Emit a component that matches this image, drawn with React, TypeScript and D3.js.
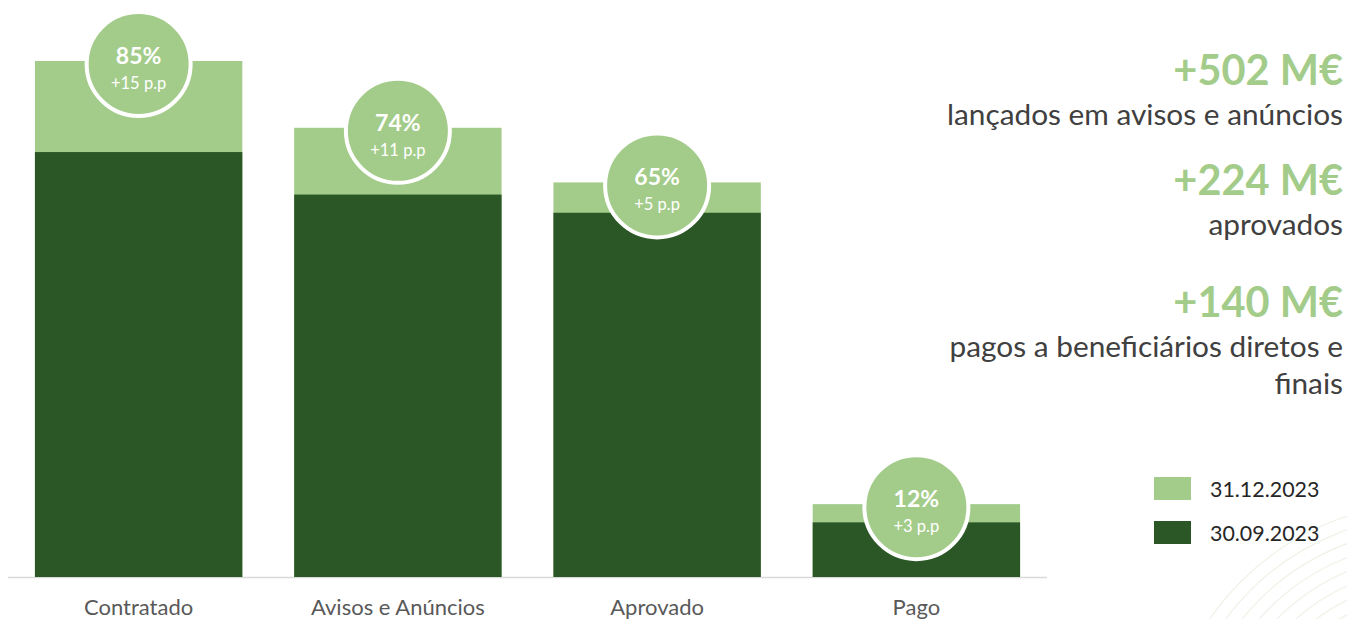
import { useMemo } from 'react';
import * as d3 from 'd3';

const categories = ['Contratado', 'Avisos e Anúncios', 'Aprovado', 'Pago'];
const pctDec2023 = [85, 74, 65, 12];
const deltaPp = [15, 11, 5, 3];
const pctSep2023 = pctDec2023.map((v, i) => v - deltaPp[i]);

const legendLabels = ['31.12.2023', '30.09.2023'];

const highlights = [
  { value: '+502 M€', lines: ['lançados em avisos e anúncios'] },
  { value: '+224 M€', lines: ['aprovados'] },
  { value: '+140 M€', lines: ['pagos a beneficiários diretos e', 'finais'] },
];

const LIGHT = '#a3cc8a';
const DARK = '#2b5727';
const FONT = 'Lato, "Open Sans", sans-serif';

export default function App() {
  const width = 1347;
  const height = 619;
  const baseline = 577;

  const x = useMemo(
    () => d3.scaleBand<string>().domain(categories).range([9, 1046]).paddingInner(0.2).paddingOuter(0.1),
    []
  );
  const y = useMemo(() => d3.scaleLinear().domain([0, 85]).range([baseline, 61]), []);

  // baselines for the right-hand highlight texts
  const valueY = [85, 195, 317];

  return (
    <svg
      width={width}
      height={height}
      style={{ position: 'absolute', left: 0, top: 0, background: '#fff' }}
      fontFamily={FONT}
    >
      {/* faint decorative arcs */}
      <g fill="none" stroke="#edf3e6" strokeWidth="1.2">
        {d3.range(10).map((i) => (
          <circle key={i} cx={1430} cy={770} r={150 + i * 13} />
        ))}
      </g>

      <line x1={8} x2={1047} y1={baseline + 0.5} y2={baseline + 0.5} stroke="#d9d9d9" strokeWidth="1.5" />

      {categories.map((c, i) => {
        const bx = x(c)!;
        const bw = x.bandwidth();
        const cx = bx + bw / 2;
        const cy = y(pctDec2023[i]) + 3;
        return (
          <g key={c}>
            <rect x={bx} y={y(pctDec2023[i])} width={bw} height={baseline - y(pctDec2023[i])} fill={LIGHT} />
            <rect x={bx} y={y(pctSep2023[i])} width={bw} height={baseline - y(pctSep2023[i])} fill={DARK} />
            <circle cx={cx} cy={cy} r={52} fill={LIGHT} stroke="#fff" strokeWidth="4" />
            <text x={cx} y={cy} textAnchor="middle" fill="#fff" fontWeight="700" fontSize="23">
              {pctDec2023[i]}%
            </text>
            <text x={cx} y={cy + 25} textAnchor="middle" fill="#fff" fontSize="16.5">
              +{deltaPp[i]} p.p
            </text>
            <text x={cx} y={615} textAnchor="middle" fill="#595959" fontSize="22">
              {c}
            </text>
          </g>
        );
      })}

      {highlights.map((h, i) => (
        <g key={h.value}>
          <text x={1343} y={valueY[i]} textAnchor="end" fill={LIGHT} fontWeight="700" fontSize="41.5">
            {h.value}
          </text>
          {h.lines.map((l, j) => (
            <text key={l} x={1343} y={valueY[i] + 40 + j * 37} textAnchor="end" fill="#404040" fontSize="29.8">
              {l}
            </text>
          ))}
        </g>
      ))}

      {legendLabels.map((l, i) => (
        <g key={l} transform={`translate(1154, ${477 + i * 44})`}>
          <rect width={37} height={23} fill={i === 0 ? LIGHT : DARK} />
          <text x={56} y={20} fill="#262626" fontSize="21.4">
            {l}
          </text>
        </g>
      ))}
    </svg>
  );
}
